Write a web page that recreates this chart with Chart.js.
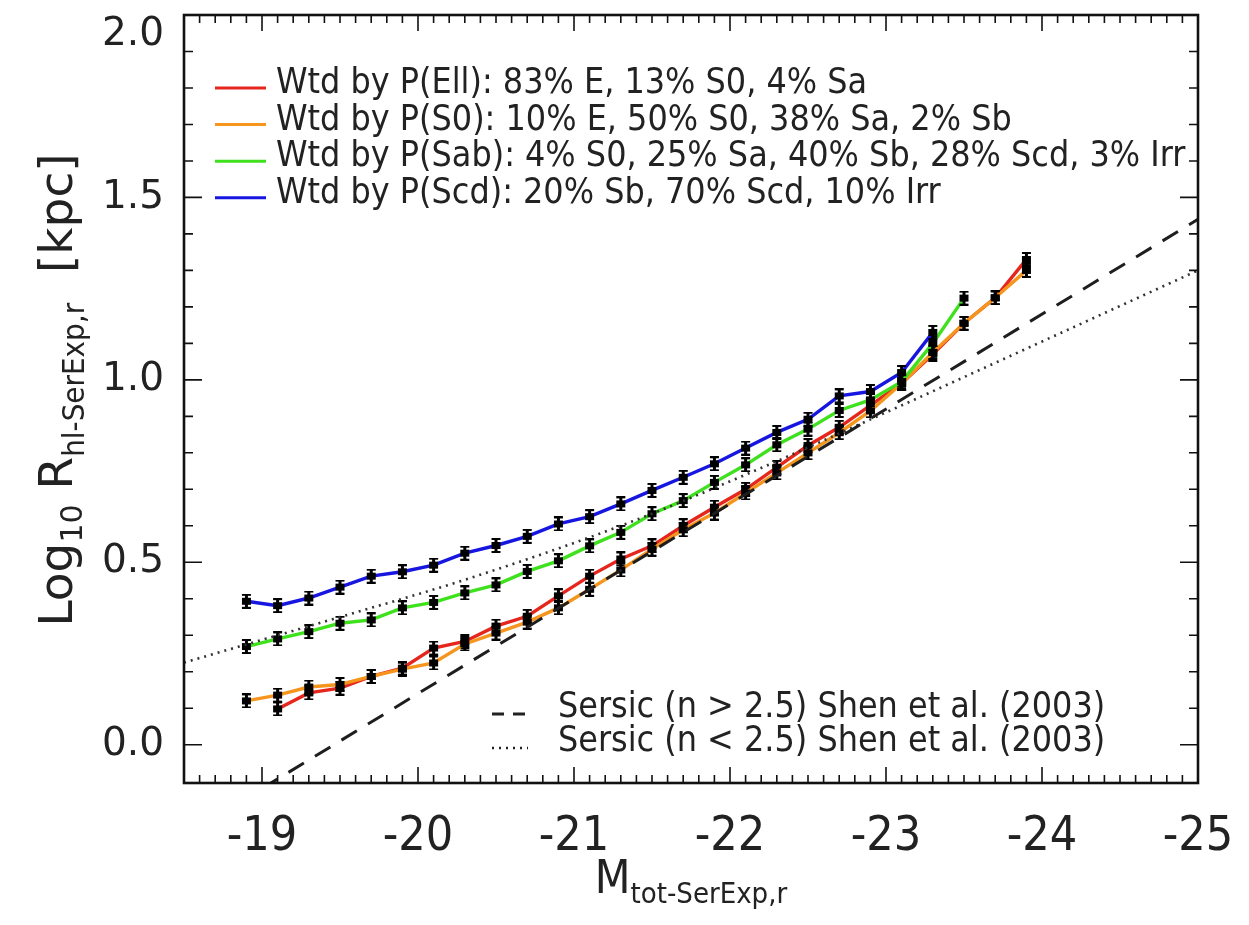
<!DOCTYPE html>
<html>
<head>
<meta charset="utf-8">
<script src="https://cdn.jsdelivr.net/npm/chart.js@4.4.1/dist/chart.umd.min.js"></script>
<style>
  html, body { margin: 0; padding: 0; background: #fff; }
  #wrap { width: 1249px; height: 925px; }
</style>
</head>
<body>
<div id="wrap"><canvas id="chartRadius"></canvas></div>
<script>
// magnitude bins, r band
const magBins = [-18.9, -19.1, -19.3, -19.5, -19.7, -19.9, -20.1, -20.3, -20.5, -20.7, -20.9, -21.1, -21.3,
                 -21.5, -21.7, -21.9, -22.1, -22.3, -22.5, -22.7, -22.9, -23.1, -23.3, -23.5, -23.7, -23.9];

// log10 half-light radius per bin (null = no bin)
const radiusEll = [null, 0.098, 0.142, 0.155, 0.187, 0.210, 0.265, 0.283, 0.325, 0.352, 0.408, 0.462, 0.509,
                   0.545, 0.600, 0.651, 0.700, 0.760, 0.820, 0.870, 0.930, 0.990, 1.070, 1.155, 1.225, 1.330];
const radiusS0  = [0.120, 0.136, 0.158, 0.165, 0.187, 0.207, 0.224, 0.276, 0.306, 0.336, 0.375, 0.426, 0.479,
                   0.536, 0.589, 0.635, 0.690, 0.745, 0.800, 0.855, 0.915, 0.990, 1.075, 1.155, 1.225, 1.300];
const radiusSab = [0.269, 0.290, 0.310, 0.333, 0.342, 0.375, 0.390, 0.416, 0.438, 0.475, 0.504, 0.545, 0.582,
                   0.633, 0.669, 0.719, 0.767, 0.822, 0.865, 0.916, 0.945, 0.995, 1.100, 1.224, null, null];
const radiusScd = [0.393, 0.381, 0.402, 0.432, 0.462, 0.474, 0.492, 0.525, 0.546, 0.571, 0.605, 0.625, 0.660,
                   0.697, 0.733, 0.770, 0.813, 0.856, 0.892, 0.956, 0.968, 1.020, 1.130, null, null, null];

// Shen et al. (2003) size-luminosity relations
const sersicHighMag = [-19.0, -25.0];
const sersicHighR   = [-0.12, 1.44];
const sersicLowMag  = [-18.5, -19.5, -20.3, -21.3, -22.1, -23.1, -23.8, -25.0];
const sersicLowR    = [0.225, 0.350, 0.452, 0.600, 0.740, 0.930, 1.066, 1.300];

const typeLabels = [
  'Wtd by P(Ell): 83% E, 13% S0, 4% Sa',
  'Wtd by P(S0): 10% E, 50% S0, 38% Sa, 2% Sb',
  'Wtd by P(Sab): 4% S0, 25% Sa, 40% Sb, 28% Scd, 3% Irr',
  'Wtd by P(Scd): 20% Sb, 70% Scd, 10% Irr'
];
const sersicLabels = [
  'Sersic (n > 2.5) Shen et al. (2003)',
  'Sersic (n < 2.5) Shen et al. (2003)'
];

const COND = '"DejaVu Sans Condensed", "Liberation Sans Narrow", "DejaVu Sans", sans-serif';
const WIDE = '"DejaVu Sans", sans-serif';
const Y_TICK_FONT = { family: WIDE, size: 39 };

function pairs(xs, ys) {
  const out = [];
  xs.forEach((x, i) => { if (ys[i] !== null) out.push({x: x, y: ys[i]}); });
  return out;
}

// black point with error-bar caps
function errMarker() {
  const c = document.createElement('canvas');
  c.width = 11; c.height = 15;
  const g = c.getContext('2d');
  g.fillStyle = '#000';
  g.fillRect(4, 0, 3, 15);
  g.fillRect(1, 0, 9, 2);
  g.fillRect(1, 13, 9, 2);
  g.fillRect(1, 4, 9, 7);
  return c;
}
const marker = errMarker();

function typeSet(label, ys, color, order) {
  return {
    label: label,
    data: pairs(magBins, ys),
    showLine: true,
    borderColor: color,
    backgroundColor: color,
    borderWidth: 3.4,
    pointStyle: marker,
    pointRadius: 5,
    tension: 0,
    order: order,
    group: 'type'
  };
}

function isHalf(v) {
  const r = v * 2;
  return Math.abs(r - Math.round(r)) < 1e-6;
}

// inward ticks on all four sides + box frame
const framePlugin = {
  id: 'frame',
  afterDatasetsDraw(chart) {
    const {ctx, chartArea: a, scales: {x, y}} = chart;
    ctx.save();
    ctx.strokeStyle = '#111';
    ctx.lineWidth = 1.6;
    ctx.beginPath();
    x.ticks.forEach(t => {
      const px = x.getPixelForValue(t.value);
      const len = Math.abs(t.value - Math.round(t.value)) < 1e-6 ? 16 : 8;
      ctx.moveTo(px, a.bottom); ctx.lineTo(px, a.bottom - len);
      ctx.moveTo(px, a.top); ctx.lineTo(px, a.top + len);
    });
    y.ticks.forEach(t => {
      const py = y.getPixelForValue(t.value);
      const len = isHalf(t.value) ? 18 : 9;
      ctx.moveTo(a.left, py); ctx.lineTo(a.left + len, py);
      ctx.moveTo(a.right, py); ctx.lineTo(a.right - len, py);
    });
    ctx.stroke();
    ctx.lineWidth = 2.6;
    ctx.strokeRect(a.left, a.top, a.right - a.left, a.bottom - a.top);
    ctx.restore();
  }
};

// text made of runs, some of them dropped as subscripts
function richText(ctx, runs, cx, baseY) {
  let total = 0;
  runs.forEach(r => { ctx.font = r.font; r.w = ctx.measureText(r.t).width; total += r.w; });
  let x = cx - total / 2;
  runs.forEach(r => {
    ctx.font = r.font;
    ctx.fillText(r.t, x, baseY + (r.sub ? r.sub : 0));
    x += r.w;
  });
}

const labelPlugin = {
  id: 'labels',
  afterDraw(chart) {
    const ctx = chart.ctx;
    const a = chart.chartArea;
    const ys = chart.scales.y;
    ctx.save();
    ctx.fillStyle = '#222';

    // top y label, kept inside the canvas
    ctx.font = Y_TICK_FONT.size + 'px ' + Y_TICK_FONT.family;
    ctx.textAlign = 'right';
    ctx.textBaseline = 'middle';
    ctx.fillText(ys.max.toFixed(1), ys.right - 20, Math.max(ys.getPixelForValue(ys.max), 35));

    ctx.textAlign = 'left';
    ctx.textBaseline = 'alphabetic';

    // x title
    richText(ctx, [
      {t: 'M', font: '46px ' + COND},
      {t: 'tot-SerExp,r', font: '29px ' + COND, sub: 10}
    ], (a.left + a.right) / 2, 893);

    // y title, rotated
    ctx.save();
    ctx.translate(72, 390);
    ctx.rotate(-Math.PI / 2);
    richText(ctx, [
      {t: 'Log', font: '47px ' + WIDE},
      {t: '10', font: '30px ' + WIDE, sub: 10},
      {t: ' R', font: '47px ' + WIDE},
      {t: 'hl-SerExp,r', font: '31px ' + COND, sub: 12},
      {t: '  [kpc]', font: '47px ' + WIDE}
    ], 0, 0);
    ctx.restore();

    // legends
    ctx.font = '35.5px ' + COND;
    ctx.textBaseline = 'middle';
    const types = chart.data.datasets.filter(d => d.group === 'type');
    types.forEach((d, i) => {
      const yy = 88 + i * 36.6;
      ctx.strokeStyle = d.borderColor;
      ctx.lineWidth = 3;
      ctx.setLineDash([]);
      ctx.beginPath(); ctx.moveTo(215, yy); ctx.lineTo(266, yy); ctx.stroke();
      ctx.fillStyle = '#222';
      ctx.fillText(d.label, 276, yy - 4);
    });
    const refs = chart.data.datasets.filter(d => d.group === 'ref');
    refs.forEach((d, i) => {
      const yy = 714 + i * 34;
      ctx.strokeStyle = '#222';
      ctx.lineWidth = d.borderWidth;
      ctx.setLineDash(d.legendDash);
      ctx.beginPath(); ctx.moveTo(492, yy); ctx.lineTo(528, yy); ctx.stroke();
      ctx.fillStyle = '#222';
      ctx.fillText(d.label, 558, yy - 6);
    });
    ctx.restore();
  }
};

const ctx = document.getElementById('chartRadius').getContext('2d');
const chartRadius = new Chart(ctx, {
  type: 'scatter',
  data: {
    datasets: [
      {
        label: sersicLabels[0],
        data: pairs(sersicHighMag, sersicHighR),
        showLine: true,
        borderColor: '#1e1e1e',
        borderWidth: 3,
        borderDash: [18, 13],
        legendDash: [12, 9],
        pointRadius: 0,
        order: 0,
        group: 'ref'
      },
      {
        label: sersicLabels[1],
        data: pairs(sersicLowMag, sersicLowR),
        showLine: true,
        borderColor: '#333',
        borderWidth: 2.6,
        borderDash: [2, 5],
        legendDash: [2, 5],
        pointRadius: 0,
        cubicInterpolationMode: 'monotone',
        order: 0,
        group: 'ref'
      },
      typeSet(typeLabels[0], radiusEll, '#e5261c', 4),
      typeSet(typeLabels[1], radiusS0, '#f5951e', 3),
      typeSet(typeLabels[2], radiusSab, '#3fe01e', 2),
      typeSet(typeLabels[3], radiusScd, '#1616e0', 1)
    ]
  },
  options: {
    responsive: true,
    maintainAspectRatio: false,
    animation: false,
    layout: { padding: { left: 0, top: 15, right: 51, bottom: 0 } },
    plugins: { legend: { display: false }, tooltip: { enabled: false } },
    scales: {
      x: {
        type: 'linear',
        min: -25,
        max: -18.5,
        reverse: true,
        grid: { display: false, drawTicks: false },
        border: { display: false },
        afterFit: s => { s.height = 142; s.paddingLeft = 0; s.paddingRight = 0; },
        ticks: {
          stepSize: 0.1,
          autoSkip: false,
          maxRotation: 0,
          padding: 26,
          color: '#222',
          font: { family: COND, size: 48 },
          callback: v => Math.abs(v - Math.round(v)) < 1e-6 ? String(Math.round(v)) : ''
        }
      },
      y: {
        type: 'linear',
        min: -0.105,
        max: 2.0,
        grid: { display: false, drawTicks: false },
        border: { display: false },
        afterFit: s => { s.width = 184; s.paddingTop = 0; s.paddingBottom = 0; },
        ticks: {
          stepSize: 0.1,
          autoSkip: false,
          padding: 20,
          color: '#222',
          font: Y_TICK_FONT,
          callback: function (v) {
            // the top label is drawn by the labels plugin
            if (v >= this.max - 1e-9) return '';
            return isHalf(v) ? (Math.round(v * 2) / 2).toFixed(1) : '';
          }
        }
      }
    }
  },
  plugins: [framePlugin, labelPlugin]
});
</script>
</body>
</html>
